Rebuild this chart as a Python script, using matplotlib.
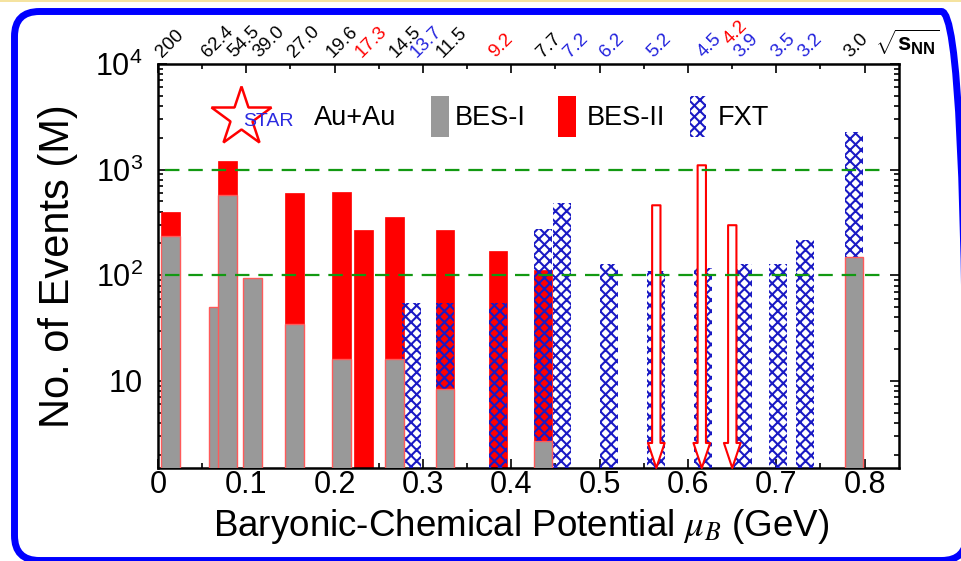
import numpy as np
import matplotlib.pyplot as plt
from matplotlib.patches import Rectangle, FancyBboxPatch
from matplotlib.transforms import IdentityTransform, blended_transform_factory, offset_copy
from matplotlib.ticker import FixedLocator, FixedFormatter, MultipleLocator, LogLocator, NullFormatter

plt.rcParams['font.family'] = ['Liberation Sans', 'DejaVu Sans']
plt.rcParams['mathtext.fontset'] = 'custom'
plt.rcParams['mathtext.rm'] = 'Liberation Sans'
plt.rcParams['mathtext.it'] = 'Liberation Sans:italic'
plt.rcParams['mathtext.bf'] = 'Liberation Sans:bold'
plt.rcParams['hatch.linewidth'] = 1.5

# beam energies sqrt(s_NN) in GeV, written over each bar
snn = ['200', '62.4', '54.5', '39.0', '27.0', '19.6', '17.3', '14.5', '13.7', '11.5',
       '9.2', '7.7', '7.2', '6.2', '5.2', '4.5', '3.9', '3.5', '3.2', '3.0']
snn_color = ['k', 'k', 'k', 'k', 'k', 'k', 'r', 'k', 'b', 'k',
             'r', 'k', 'b', 'b', 'b', 'b', 'b', 'b', 'b', 'k']
# baryon chemical potential (GeV)
mu_b = [0.0144, 0.0687, 0.0789, 0.1071, 0.1547, 0.2078, 0.2327, 0.2678, 0.2870, 0.3249,
        0.3849, 0.4358, 0.4573, 0.5105, 0.5636, 0.6168, 0.6626, 0.7017, 0.7328, 0.7882]
# events in millions (0 = none)
bes1 = [235, 50, 572, 94, 34.7, 16.2, 0, 16.2, 0, 8.3,
        0, 2.7, 0, 0, 0, 0, 0, 0, 0, 149]
bes2 = [395, 0, 1197, 0, 598, 610, 267, 355, 0, 267,
        169, 112, 0, 0, 0, 0, 0, 0, 0, 0]
fxt = [0, 0, 0, 0, 0, 0, 0, 0, 55, 55,
       55, 273, 481, 128, 110, 117, 128, 128, 215, 2260]

# planned runs drawn as hollow arrows
arrow_mu = [0.5642, 0.6157, 0.6502]
arrow_top = [460, 1100, 298]

# small sideways nudges (pixels) so the top labels don't collide
label_nudge = [-1, -1, 16, 16, 9, 1, 8, 11, 15, 7, 3, 6, 14, 3, 4, 7, 3, 6, 5, 2]

red = '#ff0000'
gray = '#999999'
hblue = '#1a1ac4'
bw = 0.0209
ybot = 1.5
colmap = {'k': 'black', 'r': 'red', 'b': '#2222dd'}

fig = plt.figure(figsize=(9.61, 5.61), dpi=100)
ax = fig.add_axes([0.1644, 0.1658, 0.7711, 0.7201])
ax.set_yscale('log')
ax.set_xlim(0, 0.839)
ax.set_ylim(ybot, 1e4)

x = np.array(mu_b)
b1 = np.array(bes1, dtype=float)
b2 = np.array(bes2, dtype=float)
fx = np.array(fxt, dtype=float)

m = b2 > 0
ax.bar(x[m], b2[m] - 1, bw, bottom=1, color=red, edgecolor=red, lw=0.5, zorder=2)
m = fx > 0
ax.bar(x[m], fx[m] - 1, bw, bottom=1, fill=False, hatch='xxx', edgecolor=hblue, lw=0, zorder=3)
m = b1 > 0
ax.bar(x[m], b1[m] - 1, bw, bottom=1, color=gray, edgecolor='#ff5a5a', lw=1.0, zorder=4)

for xa, ya in zip(arrow_mu, arrow_top):
    ax.annotate('', xy=(xa, ybot), xytext=(xa, ya),
                arrowprops=dict(arrowstyle='simple,head_length=0.9,head_width=0.6,tail_width=0.3',
                                fc='white', ec=red, lw=1.5, shrinkA=0, shrinkB=0,
                                mutation_scale=20), zorder=5)

for yv in [100, 1000]:
    ax.axhline(yv, xmin=0.0094, xmax=0.978, color='#129912', lw=1.6, dashes=(6.5, 4), zorder=6)

# energy labels along the top
blend = blended_transform_factory(ax.transData, ax.transAxes)
for xi, lab, c, dx in zip(mu_b, snn, snn_color, label_nudge):
    tr = offset_copy(blend, fig=fig, x=dx, y=3, units='dots')
    ax.text(xi, 1.0, lab, transform=tr, rotation=45, ha='center', va='bottom',
            fontsize=13.5, color=colmap[c], clip_on=False)
tr2 = offset_copy(blend, fig=fig, x=3, y=16, units='dots')
ax.text(arrow_mu[2], 1.0, '4.2', transform=tr2, rotation=45, ha='center', va='bottom',
        fontsize=13.5, color='red', clip_on=False)
ax.text(1.012, 1.018, r'$\sqrt{\mathbf{s}_{\mathbf{NN}}}$', transform=ax.transAxes,
        ha='center', va='bottom', fontsize=17)

# legend
ax.plot([0.112], [0.869], marker='*', ms=45, mfc='none', mec=red, mew=1.8,
        transform=ax.transAxes, clip_on=False, zorder=7)
ax.text(0.149, 0.857, 'STAR', transform=ax.transAxes, color='#2a2ae0', fontsize=14,
        ha='center', va='center', zorder=8)
ax.text(0.2105, 0.866, 'Au+Au', transform=ax.transAxes, fontsize=19.5, va='center')
ax.add_patch(Rectangle((0.368, 0.819), 0.025, 0.102, transform=ax.transAxes,
                       facecolor=gray, edgecolor='none'))
ax.text(0.401, 0.866, 'BES-I', transform=ax.transAxes, fontsize=19.5, va='center')
ax.add_patch(Rectangle((0.540, 0.819), 0.024, 0.102, transform=ax.transAxes,
                       facecolor=red, edgecolor='none'))
ax.text(0.579, 0.866, 'BES-II', transform=ax.transAxes, fontsize=19.5, va='center')
ax.add_patch(Rectangle((0.718, 0.819), 0.022, 0.102, transform=ax.transAxes,
                       fill=False, hatch='xxx', edgecolor=hblue, lw=0))
ax.text(0.756, 0.866, 'FXT', transform=ax.transAxes, fontsize=19.5, va='center')

# axes, ticks
ax.xaxis.set_major_locator(FixedLocator([0, 0.1, 0.2, 0.3, 0.4, 0.5, 0.6, 0.7, 0.8]))
ax.xaxis.set_major_formatter(FixedFormatter(['0', '0.1', '0.2', '0.3', '0.4', '0.5', '0.6', '0.7', '0.8']))
ax.xaxis.set_minor_locator(MultipleLocator(0.05))
ax.yaxis.set_major_locator(FixedLocator([10, 100, 1000, 10000]))
ax.yaxis.set_major_formatter(FixedFormatter(['10', r'$10^2$', r'$10^3$', r'$10^4$']))
ax.yaxis.set_minor_locator(LogLocator(base=10, subs=np.arange(2, 10)))
ax.yaxis.set_minor_formatter(NullFormatter())
ax.tick_params(which='both', direction='in', top=True, right=True, width=1.2, labelsize=22)
ax.tick_params(which='major', length=6.5)
ax.tick_params(which='minor', length=3.6)
ax.tick_params(axis='x', pad=1.5)
ax.tick_params(axis='y', pad=11)
for s in ax.spines.values():
    s.set_linewidth(1.8)

ax.set_ylabel('No. of Events (M)', fontsize=30)
ax.yaxis.set_label_coords(-0.108, 0.5)
ax.set_xlabel(r'Baryonic-Chemical Potential $\mu_B$ (GeV)', fontsize=26.5, math_fontfamily='stix')
ax.xaxis.set_label_coords(0.49, -0.0965)

# rounded blue frame round the slide, its right side runs just past the edge
fig.patches.append(FancyBboxPatch((14.5, 0.5), 952, 549, boxstyle='round,pad=0,rounding_size=25',
                                  transform=IdentityTransform(), fill=False, ec='#0000ff', lw=5.0))
fig.patches.append(Rectangle((0, 559.5), 961, 1.5, transform=IdentityTransform(),
                             color='#f5e3a0', lw=0))

fig.savefig('out.png', dpi=100)
